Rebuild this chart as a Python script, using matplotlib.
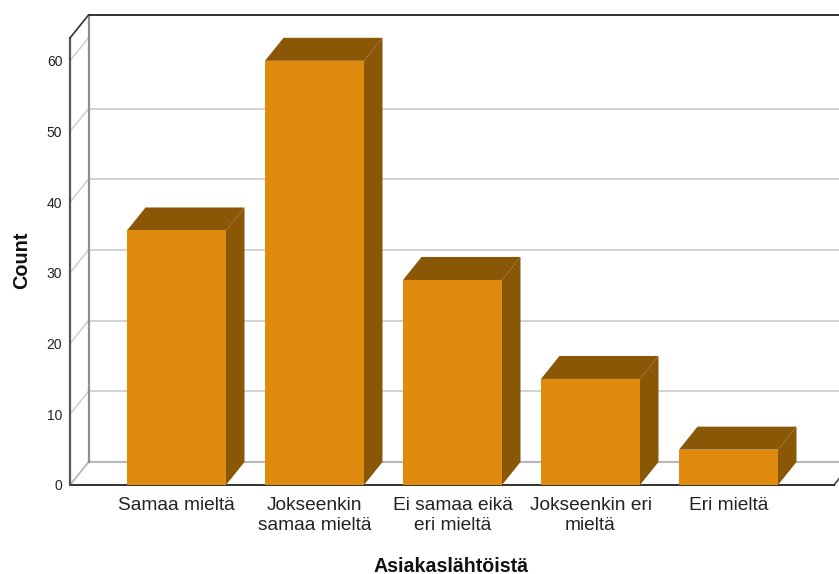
import matplotlib
matplotlib.use('Agg')
import matplotlib.pyplot as plt
from matplotlib.patches import Polygon

categories = ['Samaa mieltä', 'Jokseenkin\nsamaa mieltä', 'Ei samaa eikä\neri mieltä', 'Jokseenkin eri\nmieltä', 'Eri mieltä']
counts = [36, 60, 29, 15, 5]
yticks = [0, 10, 20, 30, 40, 50, 60]

W, H = 839, 574
plt.rcParams['font.family'] = ['Liberation Sans', 'DejaVu Sans']
fig = plt.figure(figsize=(W/100, H/100), dpi=100)
L, R, B, T = 70, 834, 485, 38
ax = fig.add_axes([L/W, 1-B/H, (R-L)/W, (B-T)/H])
ymax = (B-T)/7.07
xmin, xmax = (L-176.5)/138, (R-176.5)/138
ax.set_xlim(xmin, xmax)
ax.set_ylim(0, ymax)
ax.patch.set_visible(False)
for s in ax.spines.values():
    s.set_visible(False)

dx, dy = 18.5/138, 23/7.07
barw = 99/138
GRID = '#cfcfcf'

# Back wall gridlines and their diagonals on the side wall
for v in yticks[1:] + [ymax]:
    if v != ymax:
        ax.plot([xmin, xmin+dx], [v, v+dy], color=GRID, lw=1.1, clip_on=False, zorder=1)
    if v + dy <= ymax:
        ax.plot([xmin+dx, xmax+dx], [v+dy, v+dy], color=GRID, lw=1.3, clip_on=False, zorder=1)
ax.plot([xmin+dx, xmax+dx], [dy, dy], color='#b8b8b8', lw=1.5, clip_on=False, zorder=1)
ax.plot([xmin, xmin+dx], [0, dy], color='#b8b8b8', lw=1.3, clip_on=False, zorder=1)
ax.plot([xmax, xmax+dx], [0, dy], color='#444444', lw=1.2, clip_on=False, zorder=2)
ax.plot([xmin+dx, xmin+dx], [dy, ymax+dy], color='#8f8f8f', lw=1.6, clip_on=False, zorder=2)

# Frame
ax.plot([xmin, xmax], [0, 0], color='#222222', lw=1.3, clip_on=False, zorder=2)
ax.plot([xmin, xmin], [0, ymax], color='#555555', lw=1.6, clip_on=False, zorder=2)
ax.plot([xmin, xmin+dx], [ymax, ymax+dy], color='#333333', lw=1.2, clip_on=False, zorder=2)
ax.plot([xmin+dx, xmax+dx], [ymax+dy, ymax+dy], color='#333333', lw=1.4, clip_on=False, zorder=2)

# Bars
FRONT, SHADE = '#e08a0e', '#8a5707'
xs = list(range(len(counts)))
ax.bar(xs, counts, width=barw, color=FRONT, zorder=4, clip_on=False)
for x, v in zip(xs, counts):
    l, r = x-barw/2, x+barw/2
    ax.add_patch(Polygon([(l, v), (r, v), (r+dx, v+dy), (l+dx, v+dy)], closed=True,
                         fc=SHADE, ec='none', zorder=3, clip_on=False))
    ax.add_patch(Polygon([(r, 0), (r+dx, dy), (r+dx, v+dy), (r, v)], closed=True,
                         fc=SHADE, ec='none', zorder=3, clip_on=False))

ax.set_xticks(xs, categories, fontsize=13.8, color='#222222', linespacing=1.23)
ax.set_yticks(yticks, [str(t) for t in yticks], fontsize=10, color='#222222')
ax.tick_params(axis='x', length=0, pad=8.5)
ax.tick_params(axis='y', length=0, pad=5.5)

fig.text(22/W, 1-260/H, 'Count', rotation=90, ha='center', va='center', fontsize=14.3, fontweight='bold', color='#111111')
fig.text(451/W, 1-566/H, 'Asiakaslähtöistä', ha='center', va='center', fontsize=14.1, fontweight='bold', color='#111111')

fig.savefig('out.png', dpi=100)
